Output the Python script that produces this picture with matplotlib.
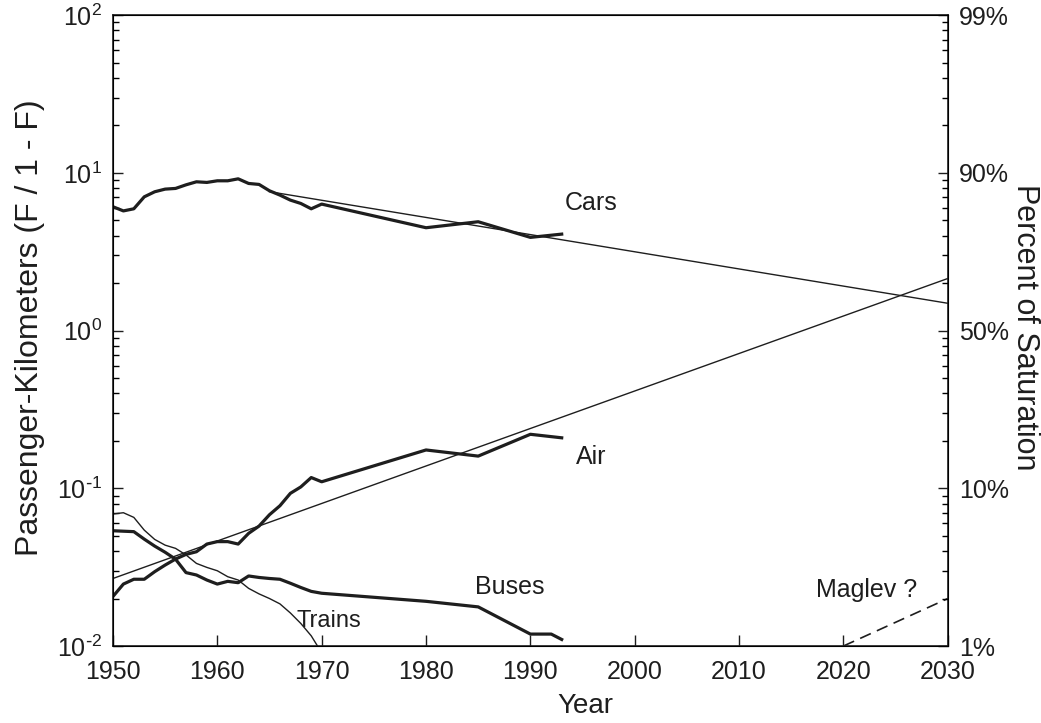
import numpy as np
import matplotlib
matplotlib.use("Agg")
import matplotlib.pyplot as plt
from matplotlib.ticker import LogLocator, FixedLocator, FixedFormatter, NullFormatter

plt.rcParams['font.family'] = ['Liberation Sans', 'DejaVu Sans']
plt.rcParams['mathtext.default'] = 'regular'
plt.rcParams['axes.unicode_minus'] = False

# data (F / 1 - F)
cars_years = [1950, 1951, 1952, 1953, 1954, 1955, 1956, 1957, 1958, 1959, 1960, 1961,
              1962, 1963, 1964, 1965, 1966, 1967, 1968, 1969, 1970, 1980, 1985, 1990, 1993]
cars_vals = [6.1, 5.74, 5.92, 7.05, 7.59, 7.89, 7.97, 8.4, 8.78, 8.7, 8.91, 8.91,
             9.17, 8.57, 8.45, 7.7, 7.23, 6.72, 6.4, 5.92, 6.34, 4.49, 4.9, 3.9, 4.09]

air_years = [1950, 1951, 1952, 1953, 1954, 1955, 1956, 1957, 1958, 1959, 1960, 1961,
             1962, 1963, 1964, 1965, 1966, 1967, 1968, 1969, 1970, 1980, 1985, 1990, 1993]
air_vals = [0.0206, 0.0247, 0.0265, 0.0265, 0.0296, 0.0326, 0.0356, 0.0381, 0.0396, 0.0443,
            0.0459, 0.0459, 0.0443, 0.0518, 0.0576, 0.068, 0.0775, 0.0929, 0.102, 0.117,
            0.110, 0.175, 0.160, 0.220, 0.209]

bus_years = [1950, 1952, 1953, 1954, 1955, 1956, 1957, 1958, 1959, 1960, 1961, 1962,
             1963, 1964, 1965, 1966, 1967, 1968, 1969, 1970, 1980, 1985, 1990, 1992, 1993]
bus_vals = [0.0538, 0.0531, 0.0476, 0.043, 0.0393, 0.0355, 0.0292, 0.0282, 0.0262, 0.0247,
            0.0257, 0.0252, 0.0278, 0.0272, 0.0268, 0.0265, 0.025, 0.0235, 0.0222, 0.0216,
            0.0192, 0.0177, 0.0119, 0.0119, 0.0110]

train_years = [1950, 1951, 1952, 1953, 1954, 1955, 1956, 1957, 1958, 1959, 1960, 1961,
               1962, 1963, 1964, 1965, 1966, 1967, 1968, 1969, 1969.6]
train_vals = [0.0687, 0.070, 0.0654, 0.0543, 0.0474, 0.0436, 0.0416, 0.0378, 0.0334, 0.0315,
              0.030, 0.0275, 0.0262, 0.0232, 0.0214, 0.020, 0.0185, 0.0162, 0.0139, 0.0116, 0.0100]

# fitted logistic trends (straight lines on this scale)
cars_fit_years = [1965, 2030]
cars_fit_vals = [7.6, 1.49]
air_fit_years = [1950, 2030]
air_fit_vals = [0.0268, 2.14]
maglev_years = [2020, 2030]
maglev_vals = [0.010, 0.020]

left_ticks = [1e-2, 1e-1, 1e0, 1e1, 1e2]
left_labels = [r'$10^{\text{-}2}$', r'$10^{\text{-}1}$', r'$10^{0}$', r'$10^{1}$', r'$10^{2}$']
right_ticks = [1e-2, 1e-1, 1e0, 1e1, 1e2]
right_labels = ['1%', '10%', '50%', '90%', '99%']

ink = '#1e1e1e'

fig = plt.figure(figsize=(10.41, 7.23), dpi=100)
ax = fig.add_axes([0.1085, 0.1065, 0.802, 0.8725])

ax.plot(cars_years, cars_vals, color=ink, lw=2.3)
ax.plot(air_years, air_vals, color=ink, lw=2.3)
ax.plot(bus_years, bus_vals, color=ink, lw=2.3)
ax.plot(train_years, train_vals, color=ink, lw=1.0)
ax.plot(cars_fit_years, cars_fit_vals, color=ink, lw=1.0)
ax.plot(air_fit_years, air_fit_vals, color=ink, lw=1.0)
ax.plot(maglev_years, maglev_vals, color=ink, lw=1.2, dashes=(7, 4))

ax.set_yscale('log')
ax.set_xlim(1950, 2030)
ax.set_ylim(1e-2, 1e2)
ax.set_xticks(range(1950, 2031, 10))
ax.yaxis.set_major_locator(FixedLocator(left_ticks))
ax.yaxis.set_major_formatter(FixedFormatter(left_labels))
ax.yaxis.set_minor_locator(LogLocator(base=10, subs=np.arange(2, 10), numticks=10))
ax.yaxis.set_minor_formatter(NullFormatter())

ax.tick_params(axis='both', which='major', direction='in', labelsize=18, colors=ink)
ax.tick_params(axis='x', which='major', length=8, width=1, pad=10)
ax.tick_params(axis='y', which='major', length=7.5, width=1, pad=8)
ax.tick_params(axis='y', which='minor', direction='in', length=4, width=1)
for s in ax.spines.values():
    s.set_linewidth(1.2)
    s.set_color(ink)

ax.set_xlabel('Year', fontsize=20, color=ink)
ax.xaxis.set_label_coords(0.566, -0.095)
ax.xaxis.label.set_va('center')
ax.set_ylabel('Passenger-Kilometers (F / 1 - F)', fontsize=23, color=ink)
ax.yaxis.set_label_coords(-0.0994, 0.505)
ax.yaxis.label.set_va('center')

ax2 = ax.twinx()
ax2.set_yscale('log')
ax2.set_ylim(1e-2, 1e2)
ax2.yaxis.set_major_locator(FixedLocator(right_ticks))
ax2.yaxis.set_major_formatter(FixedFormatter(right_labels))
ax2.yaxis.set_minor_locator(LogLocator(base=10, subs=np.arange(2, 10), numticks=10))
ax2.yaxis.set_minor_formatter(NullFormatter())
ax2.tick_params(axis='y', which='major', direction='in', length=7.5, width=1, labelsize=18,
                colors=ink, pad=8)
ax2.tick_params(axis='y', which='minor', direction='in', length=4, width=1)
ax2.set_ylabel('Percent of Saturation', fontsize=22, color=ink, rotation=270)
ax2.yaxis.set_label_coords(1.092, 0.505)
ax2.yaxis.label.set_va('center')
ax2.yaxis.label.set_ha('center')

ax.text(1995.8, 6.43, 'Cars', fontsize=18, color=ink, ha='center', va='center')
ax.text(1995.8, 0.158, 'Air', fontsize=18, color=ink, ha='center', va='center')
ax.text(1988.0, 0.0237, 'Buses', fontsize=18, color=ink, ha='center', va='center')
ax.text(1970.7, 0.0144, 'Trains', fontsize=17, color=ink, ha='center', va='center')
ax.text(2022.2, 0.0226, 'Maglev ?', fontsize=18, color=ink, ha='center', va='center')

fig.savefig('out.png', dpi=100)
